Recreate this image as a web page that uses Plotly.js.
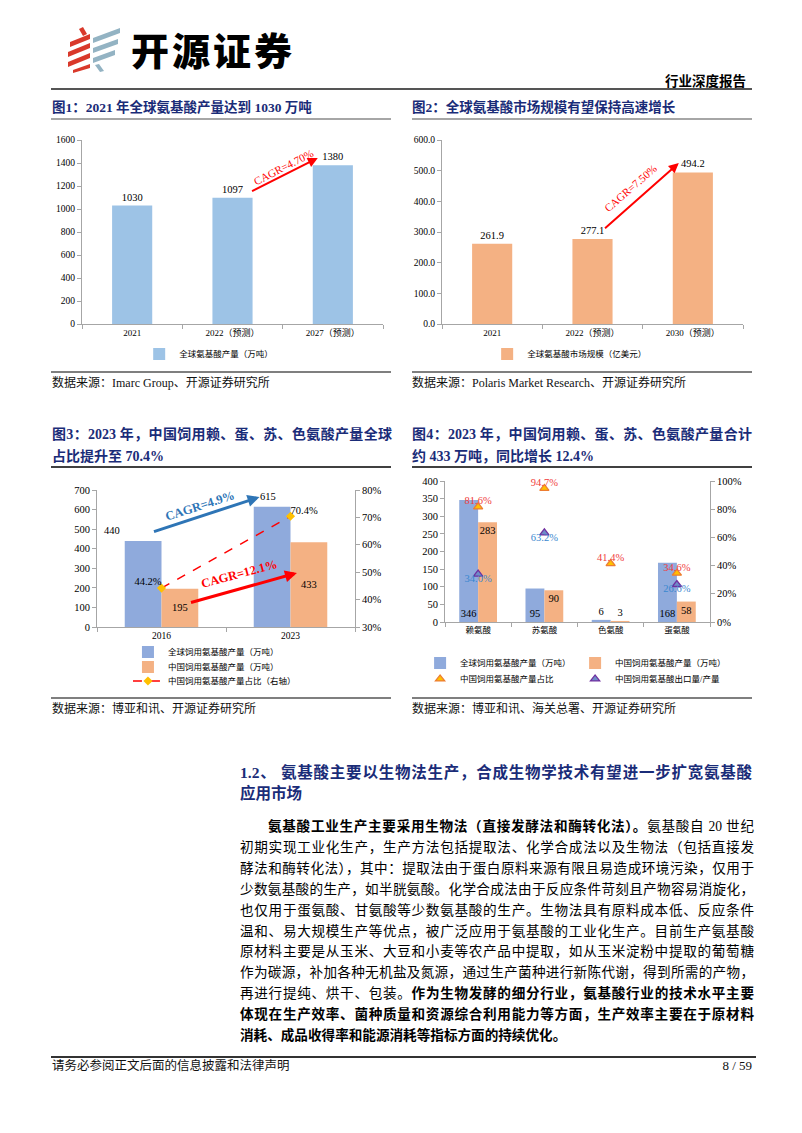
<!DOCTYPE html>
<html><head><meta charset="utf-8">
<script src="https://cdn.plot.ly/plotly-3.0.1.min.js"></script>
<style>
html,body{margin:0;padding:0;background:#fff}
body{width:802px;height:1133px;position:relative;overflow:hidden;font-family:"Liberation Serif","Noto Sans CJK SC",serif;color:#000}
.abs{position:absolute}
.ttl{position:absolute;color:#1A2C78;font-weight:bold;white-space:nowrap;line-height:20px;height:20px}
.jl{text-align:justify;text-align-last:justify;text-justify:inter-character;white-space:normal;overflow:visible}
.hr{position:absolute;background:#8c8c8c}
.src{position:absolute;font-size:12px;color:#111;white-space:nowrap;line-height:14px}
.pl{position:absolute;left:240px;width:514px;font-size:13.6px;height:20px;line-height:20px;white-space:normal}
.chart{position:absolute}
</style></head>
<body>
<!-- logo -->
<svg class="abs" style="left:0;top:0" width="130" height="80">
 <g fill="#D9392B">
  <polygon points="79,29 83,27 87,34 83,36"/>
  <polygon points="70,42 90,34 90,39 70,47"/>
  <polygon points="68,52 90,43 90,48 68,57"/>
  <polygon points="68,62 90,53 90,58 68,67"/>
  <polygon points="73,70 90,64 90,68 73,73"/>
 </g>
 <g fill="#93B3C3">
  <polygon points="93,38 120,28 120,33 93,43"/>
  <polygon points="93,48 118,39 118,44 93,53"/>
  <polygon points="93,58 115,50 115,55 93,63"/>
  <polygon points="95,65 99,64 104,71 100,72"/>
 </g>
</svg>
<div class="abs" style="left:131px;top:24px;font-family:'Noto Sans CJK SC';font-weight:900;font-size:38px;letter-spacing:3px;line-height:50px;white-space:nowrap">开源证券</div>
<div class="abs" style="left:660px;top:73px;width:86px;font-weight:bold;font-size:13.5px;line-height:18px;white-space:nowrap;text-align:right">行业深度报告</div>
<div class="hr" style="left:51px;top:88px;width:701px;height:2px;background:#555"></div>

<div id="c1" class="chart" style="left:40px;top:125px;width:360px;height:265px"></div>
<div id="c2" class="chart" style="left:400px;top:125px;width:360px;height:265px"></div>
<div id="c3" class="chart" style="left:40px;top:470px;width:360px;height:250px"></div>
<div id="c4" class="chart" style="left:400px;top:470px;width:400px;height:250px"></div>

<!-- fig titles row 1 -->
<div class="ttl" style="left:52px;top:98px;font-size:13.5px">图1：2021 年全球氨基酸产量达到 1030 万吨</div>
<div class="ttl" style="left:412px;top:98px;font-size:13.5px">图2：全球氨基酸市场规模有望保持高速增长</div>
<div class="hr" style="left:51px;top:118px;width:340px;height:2px;background:#a6a6a6"></div>
<div class="hr" style="left:412px;top:118px;width:340px;height:2px;background:#a6a6a6"></div>

<div class="hr" style="left:51px;top:371px;width:340px;height:1.5px;background:#7f7f7f"></div>
<div class="hr" style="left:412px;top:371px;width:340px;height:1.5px;background:#7f7f7f"></div>
<div class="src" style="left:52px;top:376px">数据来源：Imarc Group、开源证券研究所</div>
<div class="src" style="left:412px;top:376px">数据来源：Polaris Market Research、开源证券研究所</div>

<!-- fig titles row 2 -->
<div class="ttl jl" style="left:52px;top:425px;width:340px;font-size:14px">图3：2023 年，中国饲用赖、蛋、苏、色氨酸产量全球</div>
<div class="ttl" style="left:52px;top:447px;font-size:14px">占比提升至 70.4%</div>
<div class="ttl jl" style="left:412px;top:425px;width:340px;font-size:14px">图4：2023 年，中国饲用赖、蛋、苏、色氨酸产量合计</div>
<div class="ttl" style="left:412px;top:447px;font-size:14px">约 433 万吨，同比增长 12.4%</div>
<div class="hr" style="left:51px;top:466px;width:340px;height:1.5px;background:#404040"></div>
<div class="hr" style="left:412px;top:466px;width:340px;height:1.5px;background:#404040"></div>

<div class="hr" style="left:51px;top:697px;width:340px;height:1.5px;background:#7f7f7f"></div>
<div class="hr" style="left:412px;top:697px;width:340px;height:1.5px;background:#7f7f7f"></div>
<div class="src" style="left:52px;top:702px">数据来源：博亚和讯、开源证券研究所</div>
<div class="src" style="left:412px;top:702px">数据来源：博亚和讯、海关总署、开源证券研究所</div>

<!-- section -->
<div class="ttl jl" style="left:240px;top:763px;width:512px;font-size:15.5px">1.2、 氨基酸主要以生物法生产，合成生物学技术有望进一步扩宽氨基酸</div>
<div class="ttl" style="left:240px;top:784px;font-size:15.5px">应用市场</div>

<div id="para"></div>

<div class="hr" style="left:51px;top:1056px;width:705px;height:1.5px;background:#333"></div>
<div class="src" style="left:52px;top:1059px;font-size:12.5px">请务必参阅正文后面的信息披露和法律声明</div>
<div class="src" style="left:690px;top:1059px;width:62px;text-align:right;font-size:13px">8 / 59</div>

<script>
// ---------- data ----------
const fig1Categories = ['2021', '2022（预测）', '2027（预测）'];
const fig1Values = [1030, 1097, 1380];
const fig1Series = '全球氨基酸产量（万吨）';

const fig2Categories = ['2021', '2022（预测）', '2030（预测）'];
const fig2Values = [261.9, 277.1, 494.2];
const fig2Series = '全球氨基酸市场规模（亿美元）';

const fig3Categories = ['2016', '2023'];
const fig3Global = [440, 615];
const fig3China = [195, 433];
const fig3Share = [0.442, 0.704];
const fig3Names = ['全球饲用氨基酸产量（万吨）', '中国饲用氨基酸产量（万吨）', '中国饲用氨基酸产量占比（右轴）'];

const fig4Categories = ['赖氨酸', '苏氨酸', '色氨酸', '蛋氨酸'];
const fig4Global = [346, 95, 6, 168];
const fig4China = [283, 90, 3, 58];
const fig4Share = [0.816, 0.947, 0.414, 0.346];
const fig4Export = [0.340, 0.632, null, 0.266];
const fig4Names = ['全球饲用氨基酸产量（万吨）', '中国饲用氨基酸产量（万吨）', '中国饲用氨基酸产量占比', '中国饲用氨基酸出口量/产量'];

const paraLines = [
  {indent: true, html: '<b>氨基酸工业生产主要采用生物法（直接发酵法和酶转化法）。</b>氨基酸自 20 世纪'},
  {html: '初期实现工业化生产，生产方法包括提取法、化学合成法以及生物法（包括直接发'},
  {html: '酵法和酶转化法），其中：提取法由于蛋白原料来源有限且易造成环境污染，仅用于'},
  {html: '少数氨基酸的生产，如半胱氨酸。化学合成法由于反应条件苛刻且产物容易消旋化，'},
  {html: '也仅用于蛋氨酸、甘氨酸等少数氨基酸的生产。生物法具有原料成本低、反应条件'},
  {html: '温和、易大规模生产等优点，被广泛应用于氨基酸的工业化生产。目前生产氨基酸'},
  {html: '原材料主要是从玉米、大豆和小麦等农产品中提取，如从玉米淀粉中提取的葡萄糖'},
  {html: '作为碳源，补加各种无机盐及氮源，通过生产菌种进行新陈代谢，得到所需的产物，'},
  {html: '再进行提纯、烘干、包装。<b>作为生物发酵的细分行业，氨基酸行业的技术水平主要</b>'},
  {html: '<b>体现在生产效率、菌种质量和资源综合利用能力等方面，生产效率主要在于原材料</b>'},
  {last: true, html: '<b>消耗、成品收得率和能源消耗等指标方面的持续优化。</b>'}
];

// ---------- paragraph ----------
(function(){
  const host = document.getElementById('para');
  paraLines.forEach((ln, i) => {
    const d = document.createElement('div');
    d.className = 'pl' + (ln.last ? '' : ' jl');
    const top = 817 + i * 20.9;
    d.style.top = top + 'px';
    if (ln.indent) { d.style.left = '268px'; d.style.width = '486px'; }
    if (ln.last) d.style.whiteSpace = 'nowrap';
    d.innerHTML = ln.html;
    host.appendChild(d);
  });
})();

// ---------- charts ----------
const FONT = 'Liberation Serif, Noto Sans CJK SC, serif';
const AX = '#A6A6A6';
const CFG = {displayModeBar: false, staticPlot: true};

function yax(extra) {
  return Object.assign({showline: true, linecolor: AX, linewidth: 1, ticks: 'outside', ticklen: 4,
    tickcolor: AX, showgrid: false, zeroline: false, automargin: false, tickfont: {size: 10, color: '#000'}}, extra);
}
function xax(extra) {
  return Object.assign({type: 'category', showline: true, linecolor: AX, linewidth: 1, ticks: 'outside',
    tickson: 'boundaries', ticklen: 4, tickcolor: AX, showgrid: false, zeroline: false, automargin: false,
    tickfont: {size: 8.5, color: '#000'}}, extra);
}
function baseLayout(w, h, m) {
  return {width: w, height: h, margin: m, paper_bgcolor: 'rgba(0,0,0,0)', plot_bgcolor: 'rgba(0,0,0,0)',
    font: {family: FONT, color: '#000'}, showlegend: true};
}

// Chart 1  (plot area: x 82..383, y 140..324)
(function(){
  const L = baseLayout(360, 265, {l: 42, r: 17, t: 15, b: 66});
  Object.assign(L, {
    bargap: 0.6,
    xaxis: xax({tickfont: {size: 9}}),
    yaxis: yax({range: [0, 1600], dtick: 200, tickfont: {size: 9.5}}),
    legend: {orientation: 'h', x: 0.19, xanchor: 'left', y: -0.163, yanchor: 'middle', font: {size: 8.5}},
    annotations: [
      {x: 1.85, y: 1443, ax: 1.18, ay: 1148, xref: 'x', yref: 'y', axref: 'x', ayref: 'y', text: '',
       showarrow: true, arrowhead: 2, arrowsize: 1, arrowwidth: 2, arrowcolor: '#FF0000'},
      {x: 1.51, y: 1365, xref: 'x', yref: 'y', text: 'CAGR=4.70%', textangle: -27, showarrow: false,
       font: {size: 11, color: '#FF0000'}}
    ]
  });
  Plotly.newPlot('c1', [{type: 'bar', x: fig1Categories, y: fig1Values, name: fig1Series, showlegend: true,
    marker: {color: '#9DC3E6'}, text: fig1Values.map(String), textposition: 'outside', cliponaxis: false,
    textfont: {size: 10.5, color: '#000'}}], L, CFG);
})();

// Chart 2
(function(){
  const L = baseLayout(360, 265, {l: 42, r: 17, t: 15, b: 66});
  Object.assign(L, {
    bargap: 0.6,
    xaxis: xax({tickfont: {size: 9}}),
    yaxis: yax({range: [0, 600], dtick: 100, tickformat: '.1f', tickfont: {size: 9.5}}),
    legend: {orientation: 'h', x: 0.15, xanchor: 'left', y: -0.163, yanchor: 'middle', font: {size: 8.5}},
    annotations: [
      {x: 1.86, y: 525, ax: 1.11, ay: 308, xref: 'x', yref: 'y', axref: 'x', ayref: 'y', text: '',
       showarrow: true, arrowhead: 2, arrowsize: 1, arrowwidth: 2, arrowcolor: '#FF0000'},
      {x: 1.38, y: 443, xref: 'x', yref: 'y', text: 'CAGR=7.50%', textangle: -41, showarrow: false,
       font: {size: 11, color: '#FF0000'}}
    ]
  });
  Plotly.newPlot('c2', [{type: 'bar', x: fig2Categories, y: fig2Values, name: fig2Series, showlegend: true,
    marker: {color: '#F4B183'}, text: fig2Values.map(v => v.toFixed(1)), textposition: 'outside', cliponaxis: false,
    textfont: {size: 10.5, color: '#000'}}], L, CFG);
})();

// Chart 3  (plot area: x 97..355, y 490..627)
(function(){
  const L = baseLayout(360, 250, {l: 57, r: 45, t: 20, b: 93});
  const pct = v => (v * 100).toFixed(1) + '%';
  Object.assign(L, {
    barmode: 'group', bargap: 0.43, bargroupgap: 0,
    xaxis: xax({tickfont: {size: 9.5}}),
    yaxis: yax({range: [0, 700], dtick: 100, tickfont: {size: 10.5}}),
    yaxis2: yax({overlaying: 'y', side: 'right', range: [0.3, 0.8], dtick: 0.1, tickformat: '.0%', tickfont: {size: 10.5}}),
    legend: {x: 0.12, xanchor: 'left', y: -0.182, yanchor: 'middle', font: {size: 8.5}, bgcolor: 'rgba(0,0,0,0)'},
    legend2: {x: 0.12, xanchor: 'left', y: -0.292, yanchor: 'middle', font: {size: 8.5}, bgcolor: 'rgba(0,0,0,0)'},
    legend3: {x: 0.12, xanchor: 'left', y: -0.394, yanchor: 'middle', font: {size: 8.5}, bgcolor: 'rgba(0,0,0,0)'},
    annotations: [
      {x: 0, y: fig3Global[0], xref: 'x', yref: 'y', text: String(fig3Global[0]), xshift: -50, yshift: 10,
       showarrow: false, font: {size: 10.5}},
      {x: 1, y: fig3Global[1], xref: 'x', yref: 'y', text: String(fig3Global[1]), xshift: -23, yshift: 10,
       showarrow: false, font: {size: 10.5}},
      {x: 0.76, y: 664, ax: -0.07, ay: 485, xref: 'x', yref: 'y', axref: 'x', ayref: 'y', text: '',
       showarrow: true, arrowhead: 2, arrowsize: 0.8, arrowwidth: 3, arrowcolor: '#2E75B6'},
      {x: 0.295, y: 618, xref: 'x', yref: 'y', text: '<b>CAGR=4.9%</b>', textangle: -18, showarrow: false,
       font: {size: 12.5, color: '#2E75B6'}},
      {x: 1.05, y: 276, ax: 0.217, ay: 123, xref: 'x', yref: 'y', axref: 'x', ayref: 'y', text: '',
       showarrow: true, arrowhead: 2, arrowsize: 0.8, arrowwidth: 3, arrowcolor: '#FF0000'},
      {x: 0.6, y: 272, xref: 'x', yref: 'y', text: '<b>CAGR=12.1%</b>', textangle: -15, showarrow: false,
       font: {size: 12.5, color: '#FF0000'}}
    ]
  });
  const traces = [
    {type: 'bar', x: fig3Categories, y: fig3Global, name: fig3Names[0], marker: {color: '#8FAADC'}, legend: 'legend'},
    {type: 'bar', x: fig3Categories, y: fig3China, name: fig3Names[1], marker: {color: '#F4B183'}, legend: 'legend2',
     text: fig3China.map(String), textposition: 'inside', insidetextanchor: 'middle', textangle: 0,
     constraintext: 'none', textfont: {size: 10.5, color: '#000'}},
    {type: 'scatter', mode: 'lines+markers', x: fig3Categories, y: fig3Share, yaxis: 'y2', name: fig3Names[2],
     legend: 'legend3', line: {color: '#FF0000', dash: 'dash', width: 1.5},
     marker: {symbol: 'diamond', size: 7, color: '#FFC000'}},
    {type: 'scatter', mode: 'text', x: fig3Categories, y: fig3Share, yaxis: 'y2', showlegend: false,
     text: fig3Share.map(pct), textposition: ['top left', 'top right'], textfont: {size: 10.5, color: '#000'},
     cliponaxis: false}
  ];
  Plotly.newPlot('c3', traces, L, CFG);
})();

// Chart 4  (plot area: x 445..710, y 481..622)
(function(){
  const L = baseLayout(400, 250, {l: 45, r: 90, t: 11, b: 98});
  const pct = v => v == null ? '' : (v * 100).toFixed(1) + '%';
  Object.assign(L, {
    barmode: 'group', bargap: 0.43, bargroupgap: 0,
    xaxis: xax({tickfont: {size: 8.5}}),
    yaxis: yax({range: [0, 400], dtick: 50, tickfont: {size: 10.5}}),
    yaxis2: yax({overlaying: 'y', side: 'right', range: [0, 1], dtick: 0.2, tickformat: '.0%', tickfont: {size: 10.5}}),
    legend: {orientation: 'h', entrywidth: 110, x: -0.094, xanchor: 'left', y: -0.291, yanchor: 'middle',
             font: {size: 8.5}, bgcolor: 'rgba(0,0,0,0)'},
    legend2: {orientation: 'h', entrywidth: 110, x: -0.094, xanchor: 'left', y: -0.404, yanchor: 'middle',
              font: {size: 8.5}, bgcolor: 'rgba(0,0,0,0)'}
  });
  const traces = [
    {type: 'bar', x: fig4Categories, y: fig4Global, name: fig4Names[0], marker: {color: '#8FAADC'}, legend: 'legend',
     text: fig4Global.map(String), textposition: ['inside', 'inside', 'outside', 'inside'], insidetextanchor: 'start',
     textangle: 0, constraintext: 'none', cliponaxis: false, textfont: {size: 10.5, color: '#000'}},
    {type: 'bar', x: fig4Categories, y: fig4China, name: fig4Names[1], marker: {color: '#F4B183'}, legend: 'legend',
     text: fig4China.map(String), textposition: ['inside', 'inside', 'outside', 'inside'], insidetextanchor: 'end',
     textangle: 0, constraintext: 'none', cliponaxis: false, textfont: {size: 10.5, color: '#000'}},
    {type: 'scatter', mode: 'markers', x: fig4Categories, y: fig4Share, yaxis: 'y2', name: fig4Names[2], legend: 'legend2',
     marker: {symbol: 'triangle-up', size: 8, color: '#FFC000', line: {color: '#ED7D31', width: 1.3}}},
    {type: 'scatter', mode: 'markers', x: fig4Categories, y: fig4Export, yaxis: 'y2', name: fig4Names[3], legend: 'legend2',
     marker: {symbol: 'triangle-up', size: 8, color: '#6F8CC8', line: {color: '#7030A0', width: 1.3}}},
    {type: 'scatter', mode: 'text', x: fig4Categories, y: fig4Share, yaxis: 'y2', showlegend: false, cliponaxis: false,
     text: fig4Share.map(pct), textposition: 'top center', textfont: {size: 10.5, color: '#F03C3C'}},
    {type: 'scatter', mode: 'text', x: fig4Categories, y: fig4Export, yaxis: 'y2', showlegend: false, cliponaxis: false,
     text: fig4Export.map(pct), textposition: 'bottom center', textfont: {size: 10.5, color: '#3A88CF'}}
  ];
  Plotly.newPlot('c4', traces, L, CFG);
})();
</script>
</body></html>
